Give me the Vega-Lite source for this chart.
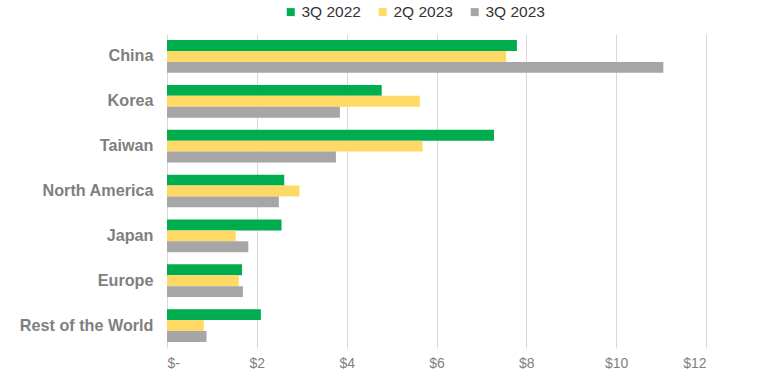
{
  "$schema": "https://vega.github.io/schema/vega-lite/v6.json",
  "autosize": {"type": "none"},
  "width": 539,
  "height": 314,
  "padding": {"left": 167, "top": 34, "right": 51, "bottom": 30},
  "background": "white",
  "data": {
    "values": [
      {"region": "China", "period": "3Q 2022", "value": 7.79},
      {"region": "China", "period": "2Q 2023", "value": 7.55},
      {"region": "China", "period": "3Q 2023", "value": 11.05},
      {"region": "Korea", "period": "3Q 2022", "value": 4.78},
      {"region": "Korea", "period": "2Q 2023", "value": 5.63},
      {"region": "Korea", "period": "3Q 2023", "value": 3.85},
      {"region": "Taiwan", "period": "3Q 2022", "value": 7.28},
      {"region": "Taiwan", "period": "2Q 2023", "value": 5.69},
      {"region": "Taiwan", "period": "3Q 2023", "value": 3.76},
      {"region": "North America", "period": "3Q 2022", "value": 2.61},
      {"region": "North America", "period": "2Q 2023", "value": 2.95},
      {"region": "North America", "period": "3Q 2023", "value": 2.49},
      {"region": "Japan", "period": "3Q 2022", "value": 2.55},
      {"region": "Japan", "period": "2Q 2023", "value": 1.53},
      {"region": "Japan", "period": "3Q 2023", "value": 1.81},
      {"region": "Europe", "period": "3Q 2022", "value": 1.67},
      {"region": "Europe", "period": "2Q 2023", "value": 1.6},
      {"region": "Europe", "period": "3Q 2023", "value": 1.69},
      {"region": "Rest of the World", "period": "3Q 2022", "value": 2.09},
      {"region": "Rest of the World", "period": "2Q 2023", "value": 0.82},
      {"region": "Rest of the World", "period": "3Q 2023", "value": 0.88}
    ]
  },
  "mark": {"type": "bar", "cornerRadius": 0},
  "encoding": {
    "y": {
      "field": "region",
      "type": "nominal",
      "sort": ["China", "Korea", "Taiwan", "North America", "Japan", "Europe", "Rest of the World"],
      "scale": {"paddingInner": 0.27, "paddingOuter": 0.135},
      "axis": {
        "title": null,
        "ticks": false,
        "domain": false,
        "labelPadding": 14,
        "labelFont": "Liberation Sans",
        "labelFontSize": 16.2,
        "labelFontWeight": "bold",
        "labelColor": "#7f7f7f"
      }
    },
    "yOffset": {
      "field": "period",
      "type": "nominal",
      "sort": ["3Q 2022", "2Q 2023", "3Q 2023"],
      "scale": {"paddingInner": 0, "paddingOuter": 0}
    },
    "x": {
      "field": "value",
      "type": "quantitative",
      "scale": {"domain": [0, 12], "nice": false},
      "axis": {
        "title": null,
        "values": [0, 2, 4, 6, 8, 10, 12],
        "labelExpr": "datum.value == 0 ? '$-' : '$' + datum.label",
        "ticks": false,
        "domain": false,
        "grid": true,
        "gridColor": "#d9d9d9",
        "gridWidth": 1,
        "labelPadding": 8,
        "labelFont": "Liberation Sans",
        "labelFontSize": 14,
        "labelColor": "#7f7f7f"
      }
    },
    "color": {
      "field": "period",
      "type": "nominal",
      "sort": ["3Q 2022", "2Q 2023", "3Q 2023"],
      "scale": {"domain": ["3Q 2022", "2Q 2023", "3Q 2023"], "range": ["#00ad4e", "#ffd966", "#a6a6a6"]},
      "legend": {
        "title": null,
        "orient": "none",
        "direction": "horizontal",
        "legendX": 116,
        "legendY": -30,
        "symbolType": "square",
        "symbolSize": 64,
        "symbolStrokeWidth": 0,
        "symbolOffset": 0,
        "labelOffset": 3,
        "columnPadding": 14,
        "labelFont": "Liberation Sans",
        "labelFontSize": 15.5,
        "labelColor": "#333333"
      }
    }
  },
  "config": {"view": {"stroke": null}}
}
